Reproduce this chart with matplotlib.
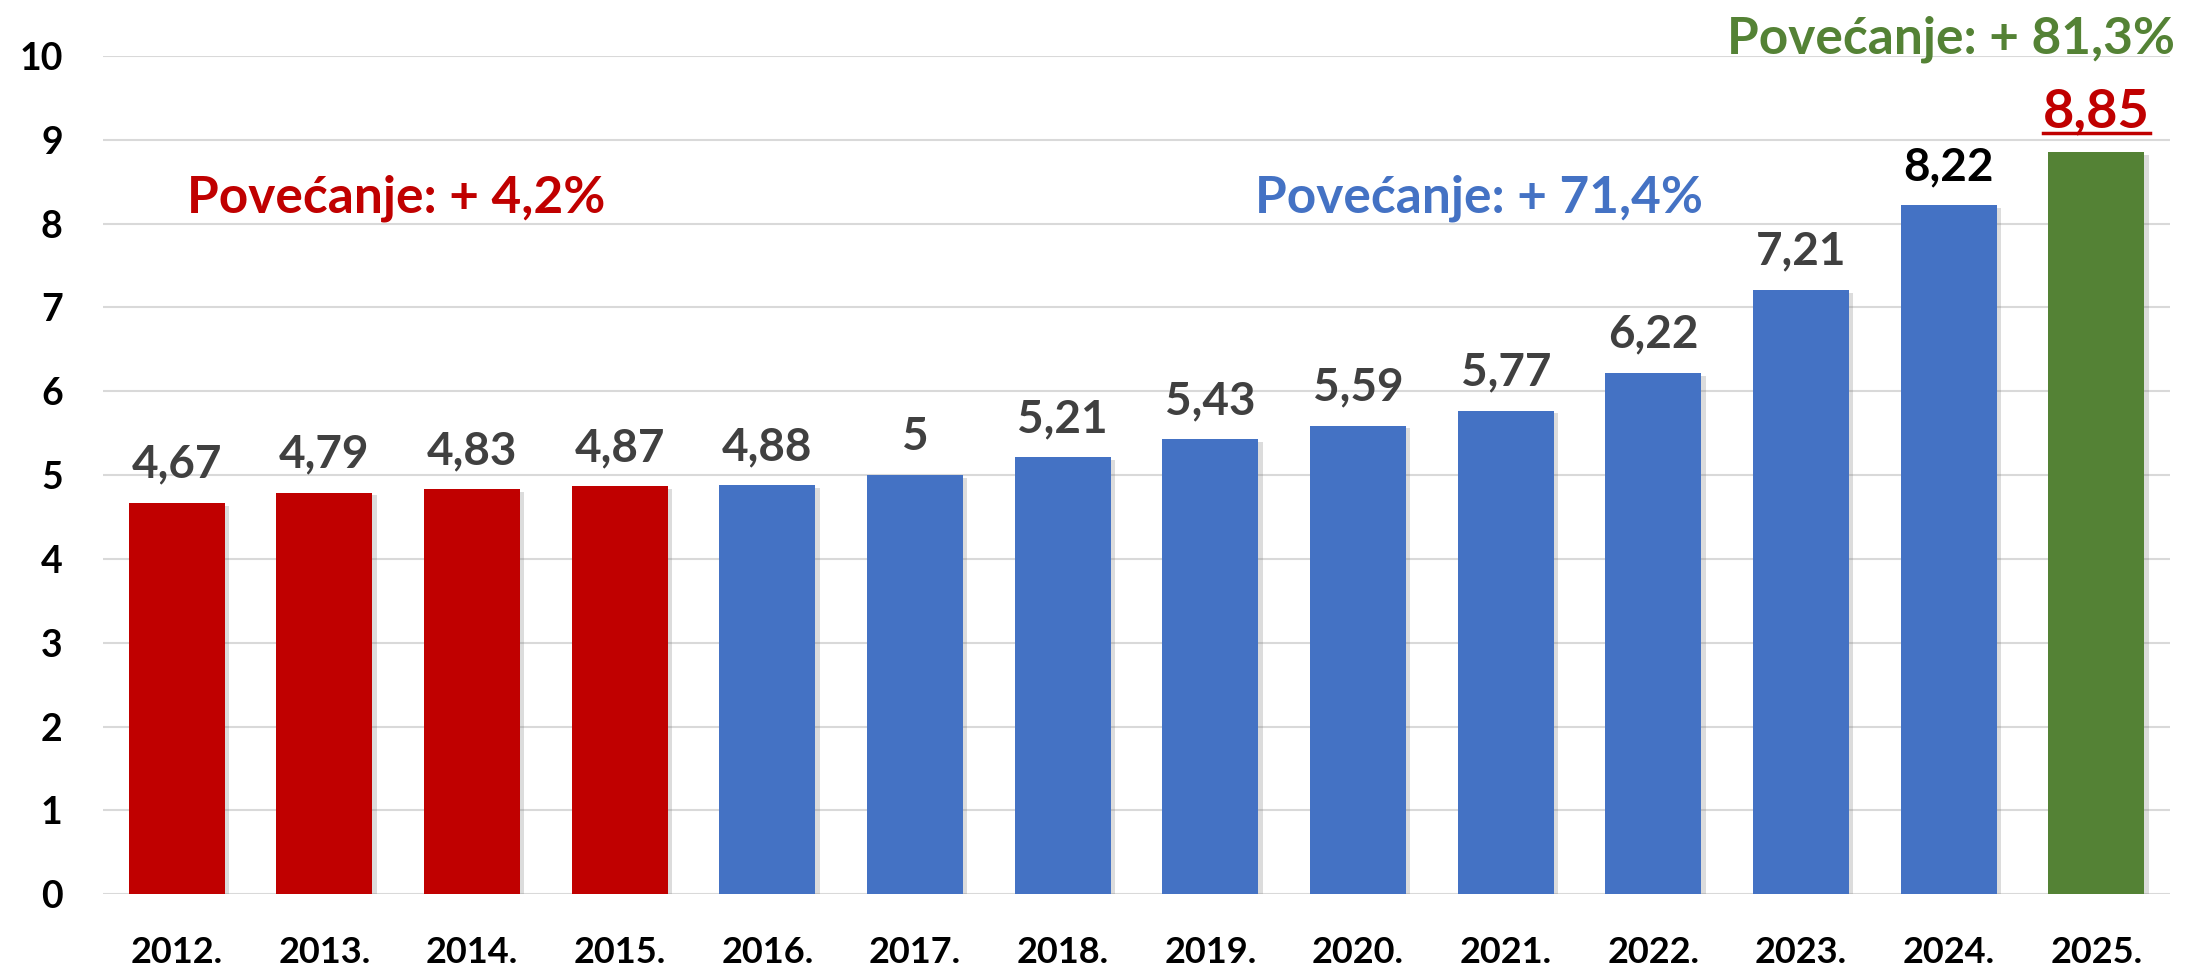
import matplotlib
matplotlib.use("Agg")
import matplotlib.pyplot as plt
import matplotlib.patheffects as pe
from matplotlib.lines import Line2D

plt.rcParams['font.family'] = ['Lato', 'DejaVu Sans']
plt.rcParams['font.weight'] = 'bold'

# data
years = ['2012.', '2013.', '2014.', '2015.', '2016.', '2017.', '2018.',
         '2019.', '2020.', '2021.', '2022.', '2023.', '2024.', '2025.']
values = [4.67, 4.79, 4.83, 4.87, 4.88, 5, 5.21, 5.43, 5.59, 5.77, 6.22, 7.21, 8.22, 8.85]
value_labels = ['4,67', '4,79', '4,83', '4,87', '4,88', '5', '5,21', '5,43',
                '5,59', '5,77', '6,22', '7,21', '8,22', '8,85']
groups = ['red'] * 4 + ['blue'] * 9 + ['green']
notes = ['Povećanje: + 4,2%', 'Povećanje: + 71,4%', 'Povećanje: + 81,3%']

RED = '#C00000'
BLUE = '#4472C4'
GREEN = '#548235'
colors = {'red': RED, 'blue': BLUE, 'green': GREEN}

fig = plt.figure(figsize=(21.9, 9.74), dpi=100)
ax = fig.add_axes([0.047, 0.082, 0.944, 0.8605])

x = list(range(len(years)))
bars = ax.bar(x, values, width=0.65, color=[colors[g] for g in groups], zorder=3)
for b in bars:
    b.set_path_effects([pe.SimplePatchShadow(offset=(3, -2), alpha=0.25, shadow_rgbFace='#777777'),
                        pe.Normal()])

ax.set_xlim(-0.5, len(years) - 0.5)
ax.set_ylim(0, 10)
ax.set_yticks(range(0, 11))
ax.grid(axis='y', color='#D9D9D9', linewidth=1.5, zorder=0)
for s in ax.spines.values():
    s.set_visible(False)
ax.tick_params(axis='y', length=0, labelsize=27, pad=29)
ax.tick_params(axis='x', length=0, labelsize=26, pad=30)
ax.set_xticks(x)
ax.set_xticklabels(years, fontweight='bold')
for t in ax.get_yticklabels():
    t.set_fontweight('bold')

# value labels
label_texts = []
last = len(values) - 1
for i, (v, lab) in enumerate(zip(values, value_labels)):
    if i == last:
        c, fs, off = RED, 39, 18
    elif i == last - 1:
        c, fs, off = 'black', 33, 18
    else:
        c, fs, off = '#404040', 33, 18
    t = ax.annotate(lab, (i, v), xytext=(0, off), textcoords='offset points',
                    ha='center', va='baseline', fontsize=fs, fontweight='bold',
                    color=c, clip_on=False)
    label_texts.append(t)

# group notes
ax.text(0.07, 8.3, notes[0], ha='left', va='center', fontsize=37,
        fontweight='bold', color=RED)
ax.text(8.82, 8.3, notes[1], ha='center', va='center', fontsize=37,
        fontweight='bold', color=BLUE)
ax.text(13.53, 10.2, notes[2], ha='right', va='center', fontsize=37,
        fontweight='bold', color=GREEN, clip_on=False)

# underline the last value
fig.canvas.draw()
bb = label_texts[-1].get_window_extent()
base = ax.transData.transform((last, values[last]))[1] + 18 * fig.dpi / 72
inv = fig.transFigure.inverted()
(x0, y0), (x1, _) = inv.transform([(bb.x0, base - 6), (bb.x1, base - 6)])
fig.add_artist(Line2D([x0, x1], [y0, y0], color=RED, linewidth=2.5))

fig.savefig('out.png', dpi=100)
